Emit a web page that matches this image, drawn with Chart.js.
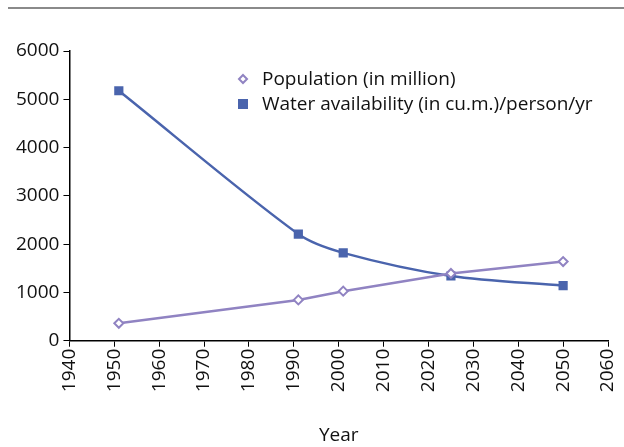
<!DOCTYPE html>
<html>
<head>
<meta charset="utf-8">
<script src="https://cdn.jsdelivr.net/npm/chart.js@4"></script>
<style>
  html, body { margin: 0; padding: 0; background: #fff; }
  #wrap { position: relative; width: 624px; height: 447px; }
  #rule { position: absolute; left: 8px; right: 0; top: 7px; height: 2px; background: #8a8a8a; }
  canvas { position: absolute; left: 0; top: 0; }
</style>
</head>
<body>
<div id="wrap">
  <div id="rule"></div>
  <canvas id="chart" width="624" height="447"></canvas>
</div>
<script>
// Data
const years = [1951, 1991, 2001, 2025, 2050];
const population = [361, 846, 1027, 1394, 1640];
const water = [5177, 2209, 1820, 1341, 1140];
const seriesLabels = ['Population (in million)', 'Water availability (in cu.m.)/person/yr'];
const xTicks = [1940, 1950, 1960, 1970, 1980, 1990, 2000, 2010, 2020, 2030, 2040, 2050, 2060];
const yTicks = [0, 1000, 2000, 3000, 4000, 5000, 6000];

const FONT = '"Open Sans", sans-serif';
const FSIZE = 19;
const popColor = '#9083c2';
const waterColor = '#4a64ad';

// legend drawn inside the plot area, like the original
const innerLegend = {
    id: 'innerLegend',
    afterDraw(chart) {
        const ctx = chart.ctx;
        const x0 = 243, y0 = 79, rowH = 25;
        ctx.save();
        chart.data.datasets.forEach((ds, i) => {
            const y = y0 + i * rowH;
            ctx.strokeStyle = ds.borderColor;
            ctx.lineWidth = 2;
            if (i === 0) {
                ctx.beginPath();
                ctx.moveTo(x0, y - 4); ctx.lineTo(x0 + 4, y); ctx.lineTo(x0, y + 4); ctx.lineTo(x0 - 4, y);
                ctx.closePath();
                ctx.fillStyle = '#fff';
                ctx.fill(); ctx.stroke();
            } else {
                ctx.fillStyle = ds.borderColor;
                ctx.fillRect(x0 - 5, y - 5, 10, 10);
            }
            ctx.fillStyle = '#111';
            ctx.font = FSIZE + 'px ' + FONT;
            ctx.textBaseline = 'middle';
            ctx.fillText(ds.label, x0 + 19, y + 1);
        });
        ctx.restore();
    }
};

new Chart(document.getElementById('chart'), {
    type: 'line',
    data: {
        datasets: [
            {
                label: seriesLabels[0],
                data: years.map((y, i) => ({ x: y, y: population[i] })),
                borderColor: popColor,
                backgroundColor: '#fff',
                pointBackgroundColor: '#fff',
                pointBorderColor: popColor,
                pointStyle: 'rectRot',
                pointRadius: 4.5,
                pointBorderWidth: 2,
                borderWidth: 2.5,
                tension: 0
            },
            {
                label: seriesLabels[1],
                data: years.map((y, i) => ({ x: y, y: water[i] })),
                borderColor: waterColor,
                backgroundColor: waterColor,
                pointBackgroundColor: waterColor,
                pointBorderColor: waterColor,
                pointStyle: 'rect',
                pointRadius: 6.5,
                pointBorderWidth: 0,
                borderWidth: 2.5,
                tension: 0.3
            }
        ]
    },
    options: {
        responsive: false,
        animation: false,
        layout: { padding: { top: 51, right: 16, left: 12, bottom: 0 } },
        plugins: {
            legend: { display: false },
            tooltip: { enabled: false }
        },
        scales: {
            x: {
                type: 'linear',
                min: 1940,
                max: 2060,
                afterBuildTicks: (scale) => { scale.ticks = xTicks.map(v => ({ value: v })); },
                // rotated labels should not push the plot in from the right
                afterFit: (scale) => { scale.paddingRight = 0; },
                ticks: {
                    minRotation: 90,
                    maxRotation: 90,
                    color: '#111',
                    font: { family: FONT, size: FSIZE },
                    padding: 2,
                    callback: (v) => String(v)
                },
                grid: { drawOnChartArea: false, color: '#000', tickLength: 6, tickWidth: 1 },
                border: { color: '#000', width: 1.5 },
                title: {
                    display: true,
                    text: 'Year',
                    color: '#111',
                    font: { family: FONT, size: FSIZE },
                    padding: { top: 30, bottom: 0 }
                }
            },
            y: {
                min: 0,
                max: 6000,
                afterBuildTicks: (scale) => { scale.ticks = yTicks.map(v => ({ value: v })); },
                ticks: {
                    color: '#111',
                    font: { family: FONT, size: FSIZE },
                    padding: 4,
                    callback: (v) => String(v)
                },
                grid: { drawOnChartArea: false, color: '#000', tickLength: 6, tickWidth: 1 },
                border: { color: '#000', width: 1.5 }
            }
        }
    },
    plugins: [innerLegend]
});
</script>
</body>
</html>
